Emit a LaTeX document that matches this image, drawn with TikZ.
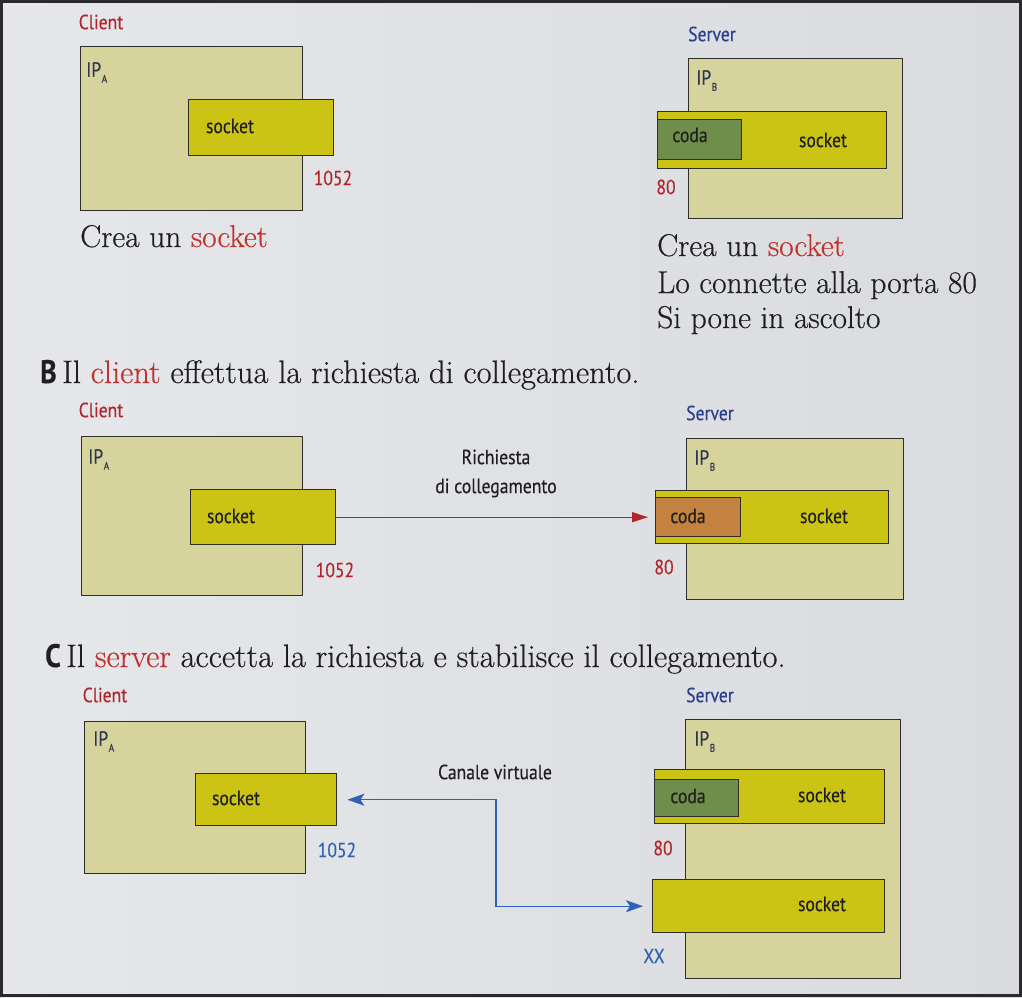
\documentclass[tikz,border=0pt]{standalone}
\usepackage{fontspec}
\newfontfamily\labelfont[FakeStretch=0.86,FakeBold=0.3]{PT Sans}
\newfontfamily\bodyfont[FakeBold=0.45]{Latin Modern Roman}
\usetikzlibrary{arrows.meta}

\definecolor{pageL}{HTML}{E6E7EA}
\definecolor{pageR}{HTML}{DADBDE}
\definecolor{frameC}{HTML}{2A2A2A}
\definecolor{hostfill}{HTML}{D6D49C}
\definecolor{sockfill}{HTML}{CCC414}
\definecolor{codagreen}{HTML}{6F8D4B}
\definecolor{codaorange}{HTML}{C3823F}
\definecolor{redtxt}{HTML}{B0262B}
\definecolor{redbody}{HTML}{BF3230}
\definecolor{navytxt}{HTML}{2C3E8E}
\definecolor{bluearr}{HTML}{2F62B5}
\definecolor{iptxt}{HTML}{2D3550}
\definecolor{edge}{HTML}{2E2E2A}
\definecolor{ink}{HTML}{1F1F1F}

\newcommand\ipsub[1]{\kern0.5pt\raisebox{-6pt}{\fontsize{11}{11}\selectfont #1}}

\begin{document}
\begin{tikzpicture}[x=1pt,y=-1pt,
  hostbox/.style={draw=edge, line width=1.4pt, fill=hostfill, anchor=north west, inner sep=0pt},
  sockbox/.style={draw=edge, line width=1.4pt, fill=sockfill, anchor=north west, inner sep=0pt},
  codabox/.style={draw=edge, line width=1.4pt, fill=codagreen, anchor=north west, inner sep=0pt},
  tag/.style={font=\labelfont\fontsize{20.5}{24}\selectfont, text=ink, inner sep=0pt},
  iptag/.style={font=\labelfont\fontsize{20.5}{24}\selectfont, text=iptxt, inner sep=0pt, anchor=north west},
  body/.style={font=\bodyfont\fontsize{31.5}{36}\selectfont, text=ink, inner sep=0pt, anchor=base west},
  heading/.style={font=\bodyfont\fontsize{32.5}{38}\selectfont, text=ink, inner sep=0pt, anchor=base west},
  req/.style={draw=redtxt, line width=1.3pt, -{Triangle[length=16pt,width=10pt]}},
  chan/.style={draw=bluearr, line width=1.3pt, {Stealth[length=17pt,width=12pt,inset=4pt]}-{Stealth[length=17pt,width=12pt,inset=4pt]}}
]
\useasboundingbox (0,0) rectangle (1022,997);
\fill[left color=pageL, right color=pageR] (0,0) rectangle (1022,997);
\draw[frameC, line width=3pt] (1.5,1.5) rectangle (1020.5,995.5);

% ---------- A: socket creation ----------
\node[tag, text=redtxt] (a-client-t) at (101,22) {Client};
\node[hostbox, minimum width=222pt, minimum height=164pt] (a-client) at (80,46) {};
\node[iptag] (a-ipa) at (86,62) {IP\ipsub{A}};
\node[sockbox, minimum width=145pt, minimum height=56pt] (a-client-sock) at (188,99) {};
\node[tag] (a-client-sock-t) at (230,126) {socket};
\node[tag, text=redtxt] (a-port1052) at (333,178) {1052};
\node[body] (a-client-txt) at (80,247) {Crea un {\color{redbody}socket}};

\node[tag, text=navytxt] (a-server-t) at (712,34) {Server};
\node[hostbox, minimum width=214pt, minimum height=160pt] (a-srv) at (688,58) {};
\node[iptag] (a-ipb) at (696,70) {IP\ipsub{B}};
\node[sockbox, minimum width=229pt, minimum height=57pt] (a-srv-sock) at (657,111) {};
\node[codabox, minimum width=84pt, minimum height=40pt] (a-srv-coda) at (657,119) {};
\node[tag] (a-coda-t) at (690,135) {coda};
\node[tag] (a-srv-sock-t) at (823,140) {socket};
\node[tag, text=redtxt] (a-port80) at (666,187) {80};
\node[body] (a-srv-txt1) at (657,256) {Crea un {\color{redbody}socket}};
\node[body] (a-srv-txt2) at (657,293) {Lo connette alla porta 80};
\node[body] (a-srv-txt3) at (657,328) {Si pone in ascolto};

% ---------- B: connection request ----------
\node[heading] (b-head) at (40,383) {{\labelfont\bfseries B}\,Il {\color{redbody}client} effettua la richiesta di collegamento.};
\node[tag, text=redtxt] (b-client-t) at (101,410) {Client};
\node[hostbox, minimum width=221pt, minimum height=159pt] (b-client) at (81,436) {};
\node[iptag] (b-ipa) at (88,449) {IP\ipsub{A}};
\node[sockbox, minimum width=145pt, minimum height=55pt] (b-client-sock) at (190,489) {};
\node[tag] (b-client-sock-t) at (231,516) {socket};
\node[tag, text=redtxt] (b-port1052) at (335,570) {1052};
\node[tag] (b-req1) at (496,457) {Richiesta};
\node[tag] (b-req2) at (496,488) {di collegamento};

\node[tag, text=navytxt] (b-server-t) at (710,413) {Server};
\node[hostbox, minimum width=217pt, minimum height=161pt] (b-srv) at (686,438) {};
\node[iptag] (b-ipb) at (694,450) {IP\ipsub{B}};
\node[sockbox, minimum width=233pt, minimum height=53pt] (b-srv-sock) at (655,490) {};
\node[codabox, fill=codaorange, minimum width=85pt, minimum height=39pt] (b-srv-coda) at (655,497) {};
\node[tag] (b-coda-t) at (688,516) {coda};
\node[tag] (b-srv-sock-t) at (824,516) {socket};
\node[tag, text=redtxt] (b-port80) at (664,567) {80};
\draw[req, shorten >=7pt] (b-client-sock.east) -- (b-srv-coda.west);

% ---------- C: connection accepted ----------
\node[heading] (c-head) at (45,667) {{\labelfont\bfseries C}\,Il {\color{redbody}server} accetta la richiesta e stabilisce il collegamento.};
\node[tag, text=redtxt] (c-client-t) at (105,695) {Client};
\node[hostbox, minimum width=221pt, minimum height=152pt] (c-client) at (84,721) {};
\node[iptag] (c-ipa) at (93,731) {IP\ipsub{A}};
\node[sockbox, minimum width=141pt, minimum height=52pt] (c-client-sock) at (195,773) {};
\node[tag] (c-client-sock-t) at (236,798) {socket};
\node[tag, text=bluearr] (c-port1052) at (337,850) {1052};
\node[tag] (c-chan) at (495,772) {Canale virtuale};

\node[tag, text=navytxt] (c-server-t) at (710,695) {Server};
\node[hostbox, minimum width=215pt, minimum height=259pt] (c-srv) at (685,719) {};
\node[iptag] (c-ipb) at (694,731) {IP\ipsub{B}};
\node[sockbox, minimum width=230pt, minimum height=54pt] (c-srv-sock1) at (654,769) {};
\node[codabox, minimum width=84pt, minimum height=37pt] (c-srv-coda) at (654,779) {};
\node[tag] (c-coda-t) at (688,796) {coda};
\node[tag] (c-srv-sock1-t) at (822,795) {socket};
\node[tag, text=redtxt] (c-port80) at (663,848) {80};
\node[sockbox, minimum width=232pt, minimum height=53pt] (c-srv-sock2) at (652,879) {};
\node[tag] (c-srv-sock2-t) at (822,904) {socket};
\node[tag, text=bluearr] (c-portxx) at (654,956) {XX};
\coordinate (c-turn) at (496,850);
\draw[chan, shorten <=10pt, shorten >=9pt] (c-client-sock.east) -| (c-turn) |- (c-srv-sock2.west);
\end{tikzpicture}
\end{document}
